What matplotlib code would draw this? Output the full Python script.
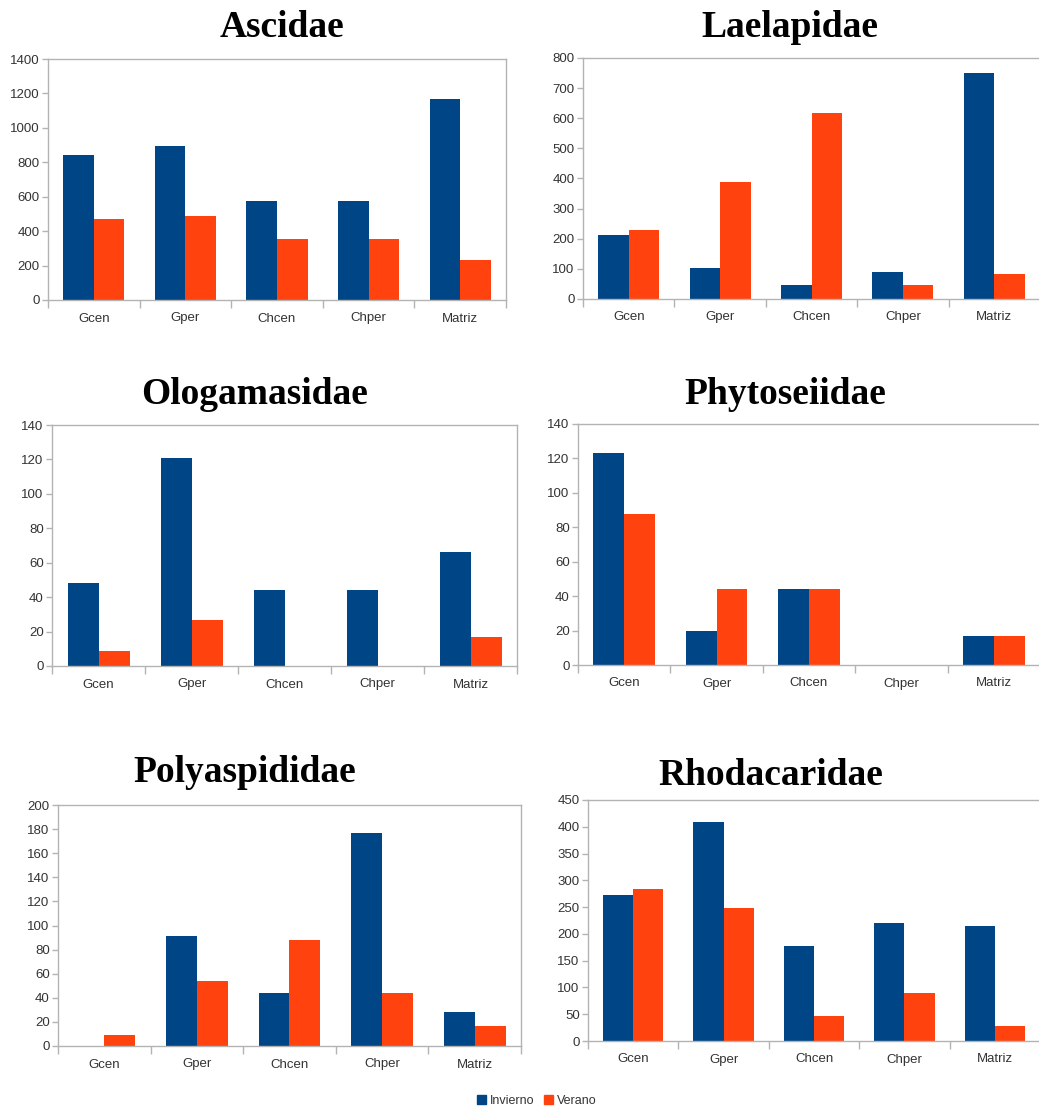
import numpy as np
import matplotlib
matplotlib.use("Agg")
import matplotlib.pyplot as plt
from matplotlib.patches import Patch

categories = ["Gcen", "Gper", "Chcen", "Chper", "Matriz"]
series_names = ["Invierno", "Verano"]

ascidae_inv = [842, 897, 575, 575, 1170]
ascidae_ver = [468, 486, 352, 352, 230]
laelapidae_inv = [214, 102, 45, 90, 749]
laelapidae_ver = [230, 389, 619, 45, 83]
ologamasidae_inv = [48, 121, 44, 44, 66]
ologamasidae_ver = [9, 27, 0, 0, 17]
phytoseiidae_inv = [123, 20, 44, 0, 17]
phytoseiidae_ver = [88, 44, 44, 0, 17]
polyaspididae_inv = [0, 91, 44, 177, 28]
polyaspididae_ver = [9, 54, 88, 44, 17]
rhodacaridae_inv = [273, 408, 178, 221, 214]
rhodacaridae_ver = [284, 248, 46, 89, 28]

titles = ["Ascidae", "Laelapidae", "Ologamasidae", "Phytoseiidae",
          "Polyaspididae", "Rhodacaridae"]
y_max = [1400, 800, 140, 140, 200, 450]
y_step = [200, 100, 20, 20, 20, 50]

panels = [
    (ascidae_inv, ascidae_ver),
    (laelapidae_inv, laelapidae_ver),
    (ologamasidae_inv, ologamasidae_ver),
    (phytoseiidae_inv, phytoseiidae_ver),
    (polyaspididae_inv, polyaspididae_ver),
    (rhodacaridae_inv, rhodacaridae_ver),
]

# axes boxes in pixels: left, top, right, bottom
boxes = [
    (48, 59, 506, 300),
    (583, 58, 1040, 299),
    (52, 425, 517, 666),
    (578, 424, 1040, 665),
    (58, 805, 521, 1046),
    (588, 800, 1040, 1041),
]
# title centre x and baseline y, pixels
title_pos = [(282, 37), (790, 37), (255, 404), (785, 404), (245, 782), (771, 785)]

W, H = 1039, 1109
blue = "#004586"
orange = "#ff420e"
grey = "#b3b3b3"

plt.rcParams["font.family"] = ["Liberation Sans", "DejaVu Sans"]
fig = plt.figure(figsize=(W / 100, H / 100), dpi=100)

x = np.arange(len(categories))
w = 1 / 3
for i, (inv, ver) in enumerate(panels):
    l, t, r, b = boxes[i]
    ax = fig.add_axes([l / W, 1 - b / H, (r - l) / W, (b - t) / H])
    ax.bar(x - w / 2, inv, w, color=blue)
    ax.bar(x + w / 2, ver, w, color=orange)
    ax.set_xlim(-0.5, len(categories) - 0.5)
    ax.set_ylim(0, y_max[i])
    ax.set_yticks(np.arange(0, y_max[i] + 1, y_step[i]))
    ax.set_xticks(np.arange(-0.5, len(categories), 1))
    ax.set_xticklabels([])
    ax.set_xticks(x, minor=True)
    ax.set_xticklabels(categories, minor=True)
    ax.tick_params(axis="x", which="major", length=6, color=grey, width=1)
    ax.tick_params(axis="x", which="minor", length=0, pad=9, labelsize=9.5,
                   labelcolor="#333333")
    ax.tick_params(axis="y", length=4, color=grey, width=1, pad=2,
                   labelsize=9.5, labelcolor="#333333")
    for s in ax.spines.values():
        s.set_color(grey)
        s.set_linewidth(1)
    tx, ty = title_pos[i]
    fig.text(tx / W, 1 - ty / H, titles[i], ha="center", va="baseline",
             fontsize=27, fontweight="bold", family="Liberation Serif")

handles = [Patch(color=blue, label=series_names[0]),
           Patch(color=orange, label=series_names[1])]
fig.legend(handles=handles, loc="center", bbox_to_anchor=(537 / W, 1 - 1101 / H),
           ncol=2, frameon=False, fontsize=9, handlelength=0.7, handleheight=0.7,
           handletextpad=0.3, columnspacing=0.8, labelcolor="#333333")

fig.savefig("out.png", dpi=100)
